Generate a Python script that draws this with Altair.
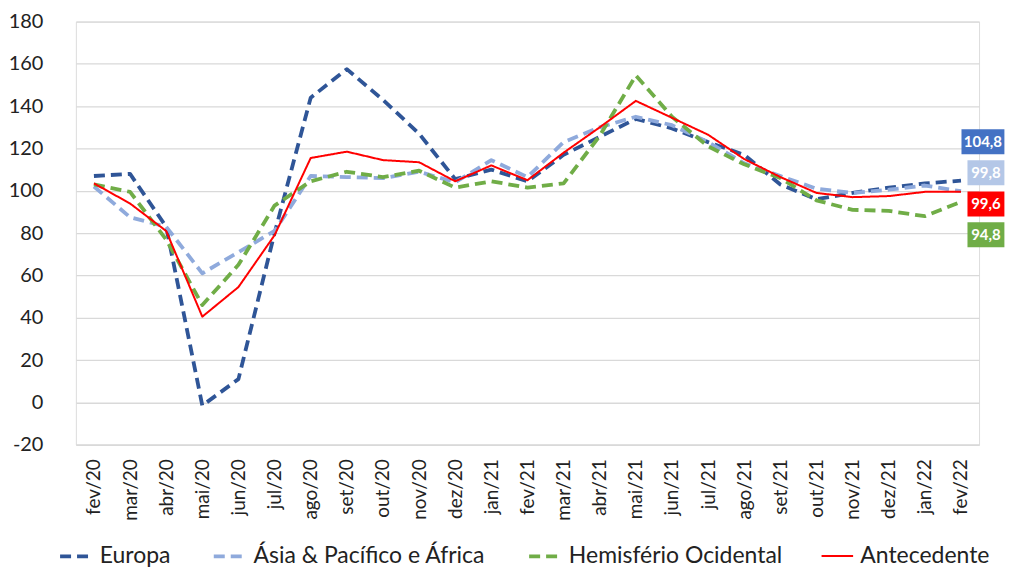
import altair as alt
import pandas as pd

months = ["fev/20", "mar/20", "abr/20", "mai/20", "jun/20", "jul/20", "ago/20", "set/20",
          "out/20", "nov/20", "dez/20", "jan/21", "fev/21", "mar/21", "abr/21", "mai/21",
          "jun/21", "jul/21", "ago/21", "set/21", "out/21", "nov/21", "dez/21", "jan/22", "fev/22"]

europa = [107, 108, 83, -1.5, 11, 80, 144, 157.5, 143, 127, 105.5, 110, 104.5, 117, 125.5,
          134, 129.5, 123, 117, 103, 96, 99, 101.5, 103.5, 104.8]
asia = [102, 87.5, 83, 61, 71, 81, 107, 106.5, 106, 109, 104, 114.5, 106.5, 123, 130,
        135, 131, 123, 113, 107, 101, 99, 100.5, 102.5, 99.8]
hemisferio = [103, 99.5, 77, 46, 65, 93, 104.5, 109, 106.5, 109.5, 101.5, 104.5, 101.5, 103.5, 126,
              154.5, 135, 121, 112.5, 106, 95.5, 91, 90.5, 88, 94.8]
antecedente = [103.5, 94, 81, 40.5, 54.5, 79, 115.5, 118.5, 114.5, 113.5, 104.5, 112, 105, 118, 130,
               142.5, 134.5, 126.5, 115, 106.5, 99, 97, 97.5, 99.5, 99.6]

series_names = ["Europa", "Ásia & Pacífico e África", "Hemisfério Ocidental", "Antecedente"]
series_values = [europa, asia, hemisferio, antecedente]
line_colors = ["#2F5597", "#8FAADC", "#70AD47", "#FF0000"]
box_colors = ["#4472C4", "#B4C7E7", "#70AD47", "#FF0000"]
dashes = [[11, 6], [11, 6], [11, 6], [1, 0]]
widths = [3.8, 3.8, 3.8, 2]

rows = []
for name, vals in zip(series_names, series_values):
    for m, v in zip(months, vals):
        rows.append({"mes": m, "serie": name, "valor": v})
df = pd.DataFrame(rows)

FONT = "Lato"

x_enc = alt.X("mes:O", sort=months, title=None,
              scale=alt.Scale(type="point", padding=0.5),
              axis=alt.Axis(labelAngle=-90, labelFontSize=19, labelPadding=14, ticks=False,
                            domain=True, domainColor="#D9D9D9", domainWidth=1.3, grid=False,
                            labelColor="#222222", labelFont=FONT))
y_enc = alt.Y("valor:Q", title=None,
              scale=alt.Scale(domain=[-20, 180], nice=False, zero=False),
              axis=alt.Axis(values=list(range(-20, 181, 20)), labelExpr="datum.value + ''",
                            labelFontSize=20, labelPadding=33, ticks=False, domain=False,
                            gridColor="#D9D9D9", gridWidth=1.3, labelColor="#222222",
                            labelFont=FONT))

legend_def = alt.Legend(title=None, orient="none", legendX=-18, legendY=518,
                        direction="horizontal", symbolType="M-1,0H1",
                        symbolSize=1000, symbolStrokeWidth=3.5,
                        labelFontSize=23, labelFont=FONT, labelColor="#222222",
                        columnPadding=35, labelOffset=6, labelLimit=400)

lines = alt.Chart(df).mark_line(strokeCap="butt", strokeJoin="round").encode(
    x=x_enc,
    y=y_enc,
    color=alt.Color("serie:N", sort=series_names,
                    scale=alt.Scale(domain=series_names, range=line_colors),
                    legend=legend_def),
    strokeDash=alt.StrokeDash("serie:N", sort=series_names,
                              scale=alt.Scale(domain=series_names, range=dashes),
                              legend=legend_def),
    strokeWidth=alt.StrokeWidth("serie:N",
                                scale=alt.Scale(type="ordinal", domain=series_names, range=widths),
                                legend=None),
    detail="serie:N",
)

layers = [lines]
x_offsets = [22, 25, 25, 25]
y_offsets = [-39, -18.5, 33, 12.3]
box_w = [43, 37, 37, 37]
box_h = 25
for name, vals, col, xo, yo, bw in zip(series_names, series_values, box_colors,
                                        x_offsets, y_offsets, box_w):
    last = pd.DataFrame({"mes": [months[-1]], "valor": [vals[-1]],
                         "txt": [f"{vals[-1]:.1f}".replace(".", ",")]})
    half = bw / 2
    shape = f"M-1,-{box_h / 2 / half:.4f}H1V{box_h / 2 / half:.4f}H-1Z"
    box = alt.Chart(last).mark_point(shape=shape, filled=True, size=bw * bw, color=col,
                                     opacity=1, xOffset=xo, yOffset=yo).encode(
        x=alt.X("mes:O", sort=months), y="valor:Q")
    txt = alt.Chart(last).mark_text(font=FONT, fontSize=15, fontWeight="bold", color="white",
                                    align="center", baseline="middle",
                                    xOffset=xo, yOffset=yo).encode(
        x=alt.X("mes:O", sort=months), y="valor:Q", text="txt:N")
    layers += [box, txt]

chart = alt.layer(*layers).properties(
    width=905, height=424,
    padding={"left": 0, "top": 3, "right": 0, "bottom": 0},
).configure_view(stroke=None).configure(font=FONT)

chart.save("out.html", embed_options={"renderer": "svg", "actions": False})
